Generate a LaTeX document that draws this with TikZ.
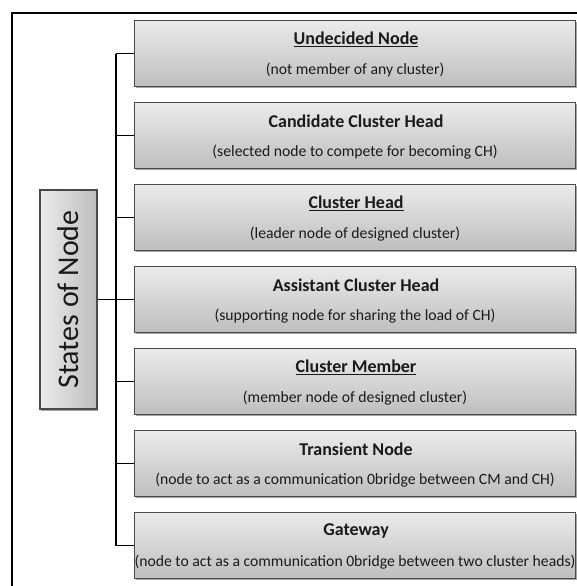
\documentclass[tikz,border=0pt]{standalone}
\usepackage{fontspec}
\setmainfont{Carlito}
\usetikzlibrary{shadows,calc}
\definecolor{boxtop}{HTML}{EBEBEB}
\definecolor{boxbot}{HTML}{BEBEBE}
\definecolor{boxedge}{HTML}{4A4A4A}
\definecolor{txt}{HTML}{1A1A1A}
\tikzset{
  statebox/.style={rectangle, draw=boxedge, line width=1.1pt, top color=boxtop, bottom color=boxbot,
    minimum width=441pt, minimum height=66pt, anchor=north west, inner sep=0pt,
    drop shadow={shadow xshift=1.2pt, shadow yshift=-1.6pt, opacity=0.35, fill=black}},
  rootbox/.style={rectangle, draw=boxedge, line width=1.1pt, left color=boxtop, right color=boxbot,
    minimum width=57pt, minimum height=219pt, inner sep=0pt,
    drop shadow={shadow xshift=1.2pt, shadow yshift=-1.6pt, opacity=0.35, fill=black}},
  ttl/.style={font=\fontsize{18}{21}\selectfont\bfseries, text=txt, inner sep=0pt},
  sub/.style={font=\fontsize{15.7}{18}\selectfont, text=txt, inner sep=0pt},
  conn/.style={line width=1.5pt, black},
  frame/.style={line width=2pt, black}
}
\begin{document}
\begin{tikzpicture}[x=1pt,y=-1pt]
\useasboundingbox (0,0) rectangle (576,586);
\coordinate (fbot) at (12,600);
\coordinate (fcorner) at (12,13);
\coordinate (fright) at (590,13);
\draw[frame] (fbot) -- (fcorner) -- (fright);

\node[rootbox] (root) at (68.5,299.5) {};
\node[rotate=90, font=\fontsize{30}{33}\selectfont, text=txt, inner sep=0pt] (rootlabel) at (root.center) {States of Node};

\foreach \i/\t/\s/\u in {
  1/Undecided Node/(not member of any cluster)/1,
  2/Candidate Cluster Head/(selected node to compete for becoming CH)/0,
  3/Cluster Head/(leader node of designed cluster)/1,
  4/Assistant Cluster Head/(supporting node for sharing the load of CH)/0,
  5/Cluster Member/(member node of designed cluster)/1,
  6/Transient Node/(node to act as a communication 0bridge between CM and CH)/0,
  7/Gateway/(node to act as a communication 0bridge between two cluster heads)/0}{
  \pgfmathsetmacro{\btop}{20+82*(\i-1)}
  \node[statebox] (b\i) at (134,\btop) {};
  \ifnum\u=1
    \node[ttl] (t\i) at ($(b\i.north)+(1,19)$) {\underline{\t}};
  \else
    \node[ttl] (t\i) at ($(b\i.north)+(1,19)$) {\t};
  \fi
  \node[sub] (s\i) at ($(b\i.north)+(0,50)$) {\s};
}
\coordinate (bustop) at (116,0 |- b1.west);
\coordinate (busbot) at (116,0 |- b7.west);
\draw[conn] (bustop) -- (busbot);
\foreach \i in {1,...,7}{
  \draw[conn] (b\i.west -| bustop) -- (b\i.west);
}
\draw[conn] (root.east) -- (root.east -| bustop);
\end{tikzpicture}
\end{document}
